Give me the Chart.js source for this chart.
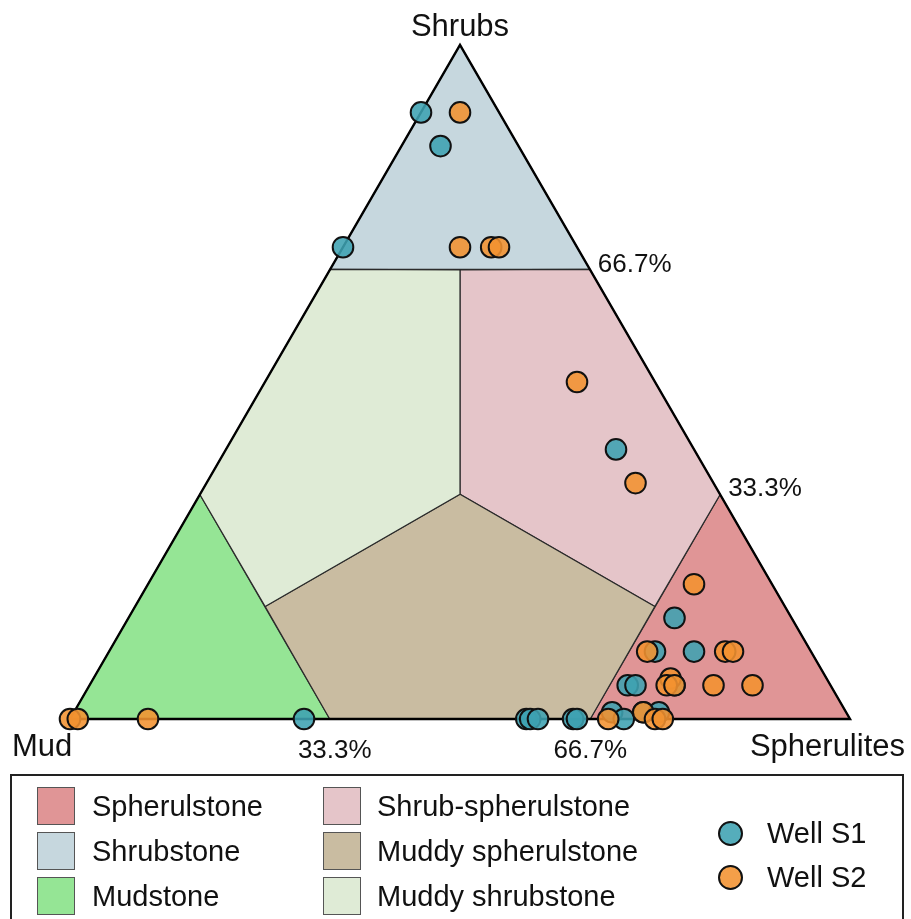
<!DOCTYPE html>
<html>
<head>
<meta charset="utf-8">
<script src="https://cdn.jsdelivr.net/npm/chart.js@4/dist/chart.umd.min.js"></script>
<style>
  html, body { margin: 0; padding: 0; background: #fff; }
  #wrap { position: relative; width: 911px; height: 919px; overflow: hidden;
          font-family: "Liberation Sans", Arial, sans-serif; color: #111; }
  #chart { position: absolute; left: 0; top: 0; }
  #legendBox { position: absolute; left: 10px; top: 774px; width: 894px; height: 170px;
               border: 2px solid #222; box-sizing: border-box; }
  .sw { position: absolute; width: 38px; height: 38px; border: 1.5px solid #555; box-sizing: border-box; }
  .lbl { position: absolute; font-size: 29px; height: 34px; line-height: 34px; white-space: nowrap; }
  .dot { position: absolute; width: 25px; height: 25px; border-radius: 50%; border: 2px solid #111; box-sizing: border-box; }
</style>
</head>
<body>
<div id="wrap">
  <canvas id="chart" width="911" height="919"></canvas>
  <div id="legendBox"></div>
</div>
<script>
// Compositions are given as [mud, shrubs, spherulites] percentages.
const wellNames = ['Well S1', 'Well S2'];

const s1Mud         = [10, 10, 30, 10, 15, 20, 15, 26, 25, 20, 30, 29, 26, 24, 41.5, 41, 40, 35.5, 35, 70];
const s1Shrubs      = [90, 85, 70, 40, 15, 10, 10,  5,  5,  5,  1,  0,  1,  1,  0,    0,  0,  0,    0,  0];
const s1Spherulites = [ 0,  5,  0, 50, 70, 70, 75, 69, 70, 75, 69, 71, 73, 75, 58.5, 59, 60, 64.5, 65, 30];

const s2Mud         = [ 5, 15, 11, 10, 10, 10, 10, 21, 11, 10, 15, 10, 20, 21, 20, 31, 26, 25, 24, 100, 99, 90];
const s2Shrubs      = [90, 70, 70, 70, 50, 35, 20, 10, 10, 10,  5,  5,  6,  5,  5,  0,  1,  0,  0,   0,  0,  0];
const s2Spherulites = [ 5, 15, 19, 20, 40, 55, 70, 69, 79, 80, 80, 85, 74, 74, 75, 69, 73, 75, 76,   0,  1, 10];

// Lithofacies fields, vertices as [mud, shrubs, spherulites]
const regionNames = ['Spherulstone', 'Shrubstone', 'Mudstone',
                     'Shrub-spherulstone', 'Muddy spherulstone', 'Muddy shrubstone'];
const regionColors = ['#e09596', '#c6d7de', '#95e595', '#e5c5c9', '#c9bca1', '#dfebd6'];
const regionVertices = [
  [[0, 0, 100], [33.3, 0, 66.7], [0, 33.3, 66.7]],
  [[0, 100, 0], [33.3, 66.7, 0], [0, 66.7, 33.3]],
  [[100, 0, 0], [66.7, 0, 33.3], [66.7, 33.3, 0]],
  [[16.7, 66.7, 16.7], [0, 66.7, 33.3], [0, 33.3, 66.7], [16.7, 16.7, 66.7], [33.3, 33.3, 33.3]],
  [[33.3, 33.3, 33.3], [16.7, 16.7, 66.7], [33.3, 0, 66.7], [66.7, 0, 33.3], [66.7, 16.7, 16.7]],
  [[33.3, 33.3, 33.3], [66.7, 16.7, 16.7], [66.7, 33.3, 0], [33.3, 66.7, 0], [16.7, 66.7, 16.7]]
];

// Corner and boundary labels
const cornerLabels = ['Mud', 'Shrubs', 'Spherulites'];
const tickLabels = ['33.3%', '66.7%'];

const H = Math.sqrt(3) / 2;
function toXY(mud, shrubs, sph) {
  const t = mud + shrubs + sph;
  return { x: (sph + shrubs / 2) / t, y: (shrubs / t) * H };
}
function points(mud, shrubs, sph) {
  return mud.map((m, i) => toXY(m, shrubs[i], sph[i]));
}

const teal = 'rgba(62, 162, 178, 0.88)';
const orange = 'rgba(242, 146, 48, 0.88)';

// Lithofacies fields, outline and labels, drawn with the chart scales
const ternaryFrame = {
  id: 'ternaryFrame',
  beforeDatasetsDraw(chart) {
    const { ctx, scales: { x, y } } = chart;
    const px = (c) => { const p = toXY(c[0], c[1], c[2]); return [x.getPixelForValue(p.x), y.getPixelForValue(p.y)]; };
    ctx.save();
    regionVertices.forEach((verts, i) => {
      ctx.beginPath();
      verts.forEach((v, k) => { const [a, b] = px(v); k ? ctx.lineTo(a, b) : ctx.moveTo(a, b); });
      ctx.closePath();
      ctx.fillStyle = regionColors[i];
      ctx.fill();
      ctx.lineWidth = 1.2;
      ctx.strokeStyle = '#2a2a2a';
      ctx.stroke();
    });
    // outer triangle
    const A = px([100, 0, 0]), B = px([0, 100, 0]), C = px([0, 0, 100]);
    ctx.beginPath();
    ctx.moveTo(A[0], A[1]); ctx.lineTo(B[0], B[1]); ctx.lineTo(C[0], C[1]); ctx.closePath();
    ctx.lineWidth = 2.4;
    ctx.strokeStyle = '#000';
    ctx.lineJoin = 'miter';
    ctx.stroke();

    // corner labels
    ctx.fillStyle = '#111';
    ctx.font = '31px "Liberation Sans", Arial, sans-serif';
    ctx.textBaseline = 'alphabetic';
    ctx.textAlign = 'left';
    ctx.fillText(cornerLabels[0], A[0] - 58, A[1] + 37);
    ctx.textAlign = 'center';
    ctx.fillText(cornerLabels[1], B[0], B[1] - 9);
    ctx.textAlign = 'right';
    ctx.fillText(cornerLabels[2], C[0] + 55, C[1] + 37);

    // boundary labels
    ctx.font = '26px "Liberation Sans", Arial, sans-serif';
    ctx.textBaseline = 'middle';
    ctx.textAlign = 'left';
    let p = px([0, 66.7, 33.3]);
    ctx.fillText(tickLabels[1], p[0] + 8, p[1] - 5);
    p = px([0, 33.3, 66.7]);
    ctx.fillText(tickLabels[0], p[0] + 8, p[1] - 6);
    ctx.textAlign = 'center';
    p = px([66.7, 0, 33.3]);
    ctx.fillText(tickLabels[0], p[0] + 5, p[1] + 32);
    p = px([33.3, 0, 66.7]);
    ctx.fillText(tickLabels[1], p[0], p[1] + 32);
    ctx.restore();
  }
};

new Chart(document.getElementById('chart'), {
  type: 'scatter',
  data: {
    datasets: [
      { label: wellNames[1], data: points(s2Mud, s2Shrubs, s2Spherulites), order: 0,
        backgroundColor: orange, borderColor: '#111', borderWidth: 2, pointRadius: 10.3,
        pointHoverRadius: 10.3, clip: false },
      { label: wellNames[0], data: points(s1Mud, s1Shrubs, s1Spherulites), order: 1,
        backgroundColor: teal, borderColor: '#111', borderWidth: 2, pointRadius: 10.3,
        pointHoverRadius: 10.3, clip: false }
    ]
  },
  options: {
    responsive: false,
    animation: false,
    devicePixelRatio: 1,
    layout: { padding: { left: 70, right: 61, top: 45, bottom: 200 } },
    scales: {
      x: { type: 'linear', min: 0, max: 1, display: false },
      y: { type: 'linear', min: 0, max: H, display: false }
    },
    plugins: { legend: { display: false }, tooltip: { enabled: false } }
  },
  plugins: [ternaryFrame]
});

// Legend panel
const wrap = document.getElementById('wrap');
function add(cls, style, text) {
  const d = document.createElement('div');
  d.className = cls;
  Object.assign(d.style, style);
  if (text) d.textContent = text;
  wrap.appendChild(d);
}
const rowTops = [787, 832, 877];
regionNames.forEach((name, i) => {
  const col = Math.floor(i / 3), row = i % 3;
  const sx = col ? 323 : 37, tx = col ? 377 : 92;
  add('sw', { left: sx + 'px', top: rowTops[row] + 'px', background: regionColors[i] });
  add('lbl', { left: tx + 'px', top: (rowTops[row] + 2) + 'px' }, name);
});
const wellColors = [teal, orange];
wellNames.forEach((name, i) => {
  const cy = 833 + i * 44;
  add('dot', { left: (730 - 12.5) + 'px', top: (cy - 12.5) + 'px', background: wellColors[i] });
  add('lbl', { left: '767px', top: (cy - 17) + 'px' }, name);
});
</script>
</body>
</html>
